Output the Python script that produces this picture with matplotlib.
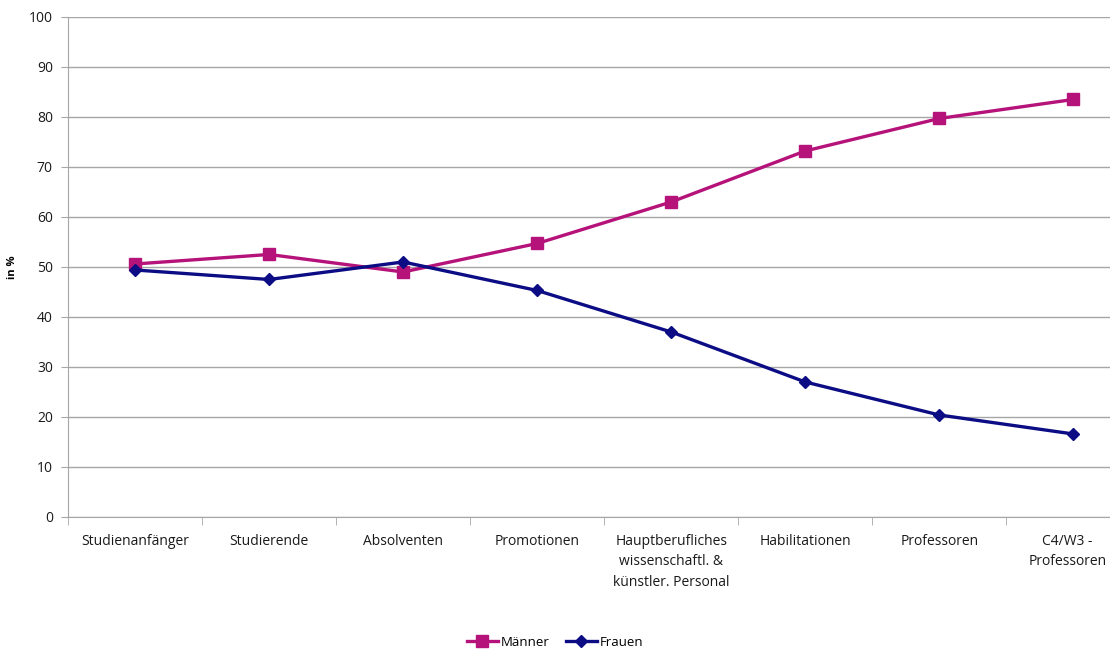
import matplotlib.pyplot as plt
import matplotlib.transforms as mtransforms
import numpy as np

plt.rcParams['font.family'] = ['Open Sans', 'DejaVu Sans']

# Data
categories = ["Studienanfänger", "Studierende", "Absolventen", "Promotionen",
              "Hauptberufliches\nwissenschaftl. &\nkünstler. Personal",
              "Habilitationen", "Professoren", "C4/W3 -\nProfessoren"]
maenner = [50.6, 52.5, 49.0, 54.7, 63.0, 73.2, 79.7, 83.5]
frauen = [49.4, 47.5, 51.0, 45.3, 37.0, 27.0, 20.4, 16.6]

fig = plt.figure(figsize=(11.10, 6.53), dpi=100)
ax = fig.add_axes([0.0613, 0.2083, 0.966, 0.7657])

x = np.arange(len(categories))
ax.plot(x, maenner, color="#B5127A", lw=2.4, marker="s", ms=8, label="Männer")
ax.plot(x, frauen, color="#0C0C84", lw=2.4, marker="D", ms=6, label="Frauen")

ax.set_xlim(-0.5, len(categories) - 0.5)
ax.set_ylim(0, 100)
ax.set_yticks(range(0, 101, 10))
ax.grid(axis="y", color="#A6A6A6", lw=1)
ax.set_axisbelow(True)

ax.set_xticks(x)
ax.set_xticklabels(categories, fontsize=10, linespacing=1.5, va="top", color="#1a1a1a")
ax.set_xticks(np.arange(-0.5, len(categories), 1), minor=True)
ax.tick_params(axis="x", which="major", length=0, pad=12)
ax.tick_params(axis="x", which="minor", length=6, color="#A6A6A6")
ax.tick_params(axis="y", length=5, color="#A6A6A6", labelsize=10, pad=6, labelcolor="#1a1a1a")

# keep the last label inside the figure edge
last = ax.get_xticklabels()[-1]
last.set_transform(last.get_transform() + mtransforms.ScaledTranslation(-6 / 100, 0, fig.dpi_scale_trans))

for s in ["top", "right"]:
    ax.spines[s].set_visible(False)
for s in ["left", "bottom"]:
    ax.spines[s].set_color("#A6A6A6")

ax.set_ylabel("in %", fontsize=8, fontweight="bold", labelpad=8)

fig.legend(loc="center", bbox_to_anchor=(0.5, 0.016), ncol=2, frameon=False,
           fontsize=9.5, handlelength=2.4, columnspacing=1.2, handletextpad=0.2)

fig.savefig("out.png", dpi=100)
